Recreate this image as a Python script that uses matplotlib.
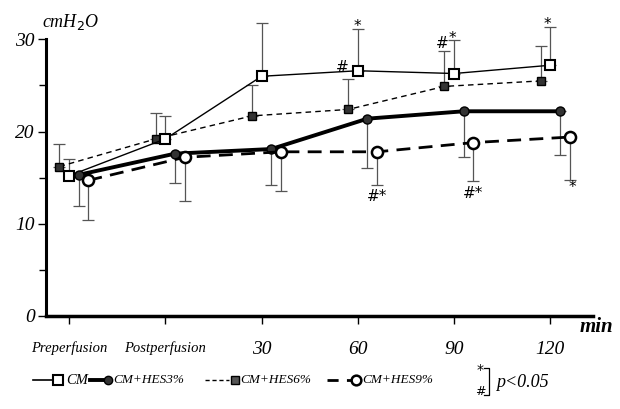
import matplotlib
matplotlib.use("Agg")
import matplotlib.pyplot as plt
from matplotlib.lines import Line2D
import numpy as np

# data (cmH2O)
categories = ["Preperfusion", "Postperfusion", "30", "60", "90", "120"]
cm = [15.2, 19.2, 26.0, 26.6, 26.3, 27.2]
cm_err = [1.8, 2.5, 5.8, 4.5, 3.6, 4.1]          # upward
hes3 = [15.3, 17.6, 18.1, 21.4, 22.2, 22.2]
hes3_err = [3.4, 3.2, 3.9, 5.4, 5.0, 4.8]        # downward
hes6 = [16.2, 19.2, 21.7, 22.4, 24.9, 25.5]
hes6_err = [2.4, 2.8, 3.4, 3.3, 3.8, 3.8]        # upward
hes9 = [14.7, 17.2, 17.8, 17.8, 18.8, 19.4]
hes9_err = [4.3, 4.7, 4.3, 3.6, 4.2, 4.7]        # downward

serif = "Liberation Serif"
plt.rcParams["font.family"] = [serif, "DejaVu Serif"]

fig = plt.figure(figsize=(6.2, 4.09), dpi=100)
ax = fig.add_axes([0.0742, 0.228, 0.956 - 0.0742, 0.7544])

x = np.arange(len(categories))
ecol = "#555555"

def series(off, y, err, up, **kw):
    xs = x + off
    yerr = [np.zeros(len(err)), err] if up else [err, np.zeros(len(err))]
    ax.errorbar(xs, y, yerr=yerr, fmt="none", ecolor=ecol, elinewidth=0.9,
                capsize=4, capthick=0.9, zorder=2)
    ax.plot(xs, y, zorder=3, **kw)

series(-0.1, hes6, hes6_err, True, color="black", lw=1.0, ls=(0, (4, 3)),
       marker="s", ms=6, mfc="#333333", mec="black")
series(0.0, cm, cm_err, True, color="black", lw=1.0, ls="-",
       marker="s", ms=7.5, mfc="white", mec="black", mew=1.5)
series(0.1, hes3, hes3_err, False, color="black", lw=2.8, ls="-",
       marker="o", ms=6.5, mfc="#333333", mec="black")
series(0.2, hes9, hes9_err, False, color="black", lw=2.0, ls=(0, (5, 3)),
       marker="o", ms=8, mfc="white", mec="black", mew=1.8)

# significance marks
sk = dict(ha="center", va="center", fontsize=11, family="DejaVu Sans")
ax.text(3.0, 31.4, "*", **sk)
ax.text(2.84, 27.0, "#", **sk)
ax.text(3.88, 29.6, "#", **sk)
ax.text(3.98, 30.1, "*", **sk)
ax.text(4.97, 31.6, "*", **sk)
ax.text(3.2, 13.0, "#*", **sk)
ax.text(4.2, 13.3, "#*", **sk)
ax.text(5.23, 13.9, "*", **sk)

ax.set_xlim(-0.24, 5.44)
ax.set_ylim(0, 33.5)
for s in ["top", "right"]:
    ax.spines[s].set_visible(False)
ax.spines["left"].set_bounds(0, 30)
ax.spines["left"].set_linewidth(2.2)
ax.spines["bottom"].set_linewidth(2.5)

ax.set_yticks([0, 10, 20, 30])
ax.set_yticks([5, 15, 25], minor=True)
ax.set_yticklabels(["0", "10", "20", "30"], fontsize=14, style="italic")
ax.tick_params(axis="y", which="major", length=6, width=1, pad=2)
ax.tick_params(axis="y", which="minor", length=5, width=1)
ax.set_xticks(x)
ax.set_xticklabels(categories, style="italic")
ax.tick_params(axis="x", length=6, width=1, pad=12)
for i, lab in enumerate(ax.get_xticklabels()):
    lab.set_fontsize(10.5 if i < 2 else 14)

fig.text(0.068, 0.945, "cmH$_2$O", fontsize=13, style="italic", ha="left", va="center")
fig.text(0.935, 0.2, "min", fontsize=15, style="italic", weight="bold", ha="left", va="center")

# legend, drawn by hand
ly = 0.07
def leg(x0, x1, mx, tx, label, fs, **kw):
    fig.add_artist(Line2D([x0, x1], [ly, ly], transform=fig.transFigure, color="black",
                          lw=kw.pop("lw"), ls=kw.pop("ls")))
    fig.add_artist(Line2D([mx], [ly], transform=fig.transFigure, **kw))
    fig.text(tx, ly, label, fontsize=fs, style="italic", ha="left", va="center")

leg(0.053, 0.086, 0.094, 0.106, "CM", 10.5, lw=1.2, ls="-",
    marker="s", ms=6.5, mfc="white", mec="black", mew=1.5, color="black")
leg(0.145, 0.172, 0.174, 0.183, "CM+HES3%", 9.5, lw=2.8, ls="-",
    marker="o", ms=6, mfc="#333333", mec="black", color="black")
leg(0.33, 0.37, 0.379, 0.388, "CM+HES6%", 9.5, lw=1.0, ls=(0, (3, 2)),
    marker="s", ms=6, mfc="#555555", mec="black", color="black")
leg(0.527, 0.566, 0.574, 0.585, "CM+HES9%", 9.5, lw=2.0, ls=(0, (4, 3)),
    marker="o", ms=7, mfc="white", mec="black", mew=1.8, color="black")

fig.text(0.775, 0.095, "*", fontsize=10, ha="center", va="center", family="DejaVu Sans")
fig.text(0.775, 0.042, "#", fontsize=9, ha="center", va="center", family="DejaVu Sans")
fig.add_artist(Line2D([0.781, 0.789, 0.789, 0.781], [0.1, 0.1, 0.035, 0.035],
                      transform=fig.transFigure, color="black", lw=0.9))
fig.text(0.8, 0.066, "p<0.05", fontsize=13, style="italic", ha="left", va="center")

fig.savefig("out.png", dpi=100)
